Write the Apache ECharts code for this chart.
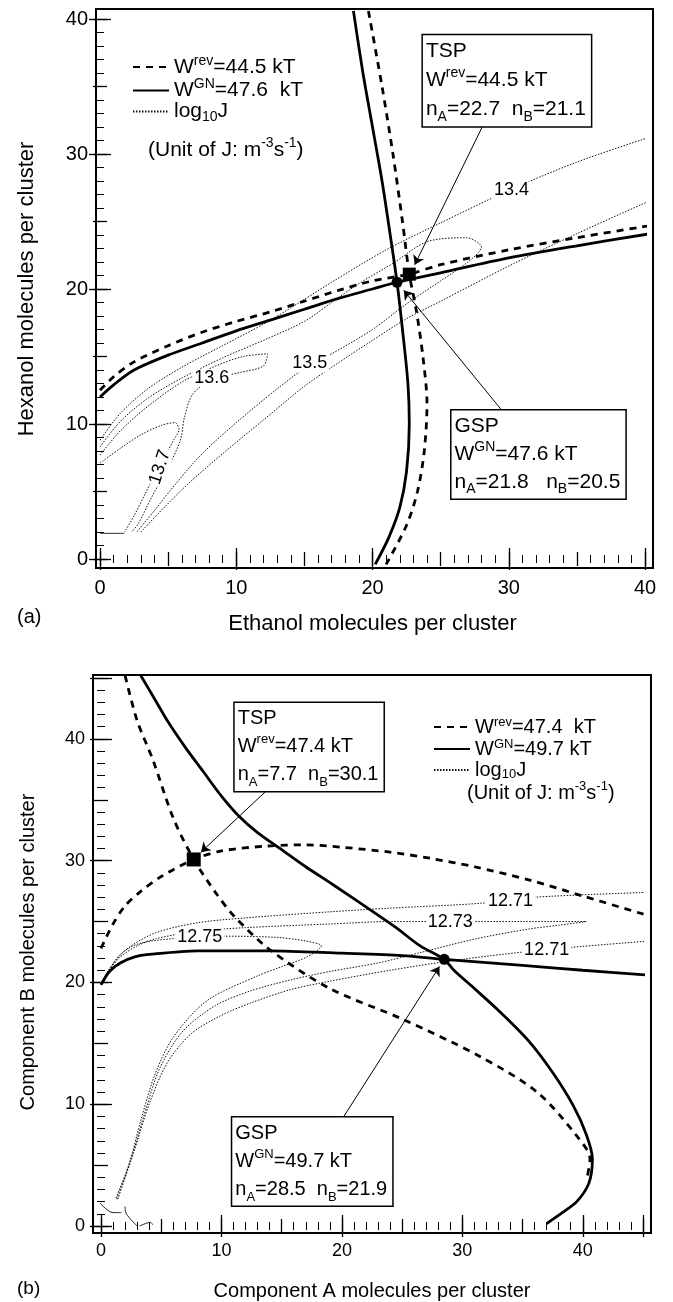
<!DOCTYPE html>
<html>
<head>
<meta charset="utf-8">
<script src="https://cdn.jsdelivr.net/npm/echarts@6/dist/echarts.min.js"></script>
<style>
  html, body { margin: 0; padding: 0; background: #fff; }
  #main { width: 673px; height: 1302px; }
</style>
</head>
<body>
<div id="main"></div>
<script>
// ---- panel (a): ethanol / hexanol ----
var aRevH = [[0,12.5],[1,13.5],[2.5,14.6],[5,15.8],[7.5,16.8],[10,17.6],[12.5,18.3],[15,19.1],[17.5,19.9],[20,20.6],[22.7,21.1],[25,21.8],[30,22.9],[35,23.8],[40.4,24.7]];
var aRevV = [[19.7,40.6],[20.7,35],[21.5,30],[22.2,25],[22.7,21.1],[23.2,18.5],[23.7,15],[24.0,11.5],[23.8,8],[23.3,5],[22.5,2.5],[21.0,-0.4]];
var aGnH = [[0,12.0],[1,12.9],[2.5,14.0],[5,15.1],[7.5,16.0],[10,16.9],[12.5,17.7],[15,18.5],[17.5,19.3],[20,20.0],[21.8,20.5],[25,21.2],[30,22.3],[35,23.2],[40.4,24.1]];
var aGnV = [[18.6,40.6],[19.3,36],[20,32],[20.7,28],[21.3,24],[21.8,20.5],[22.2,17],[22.6,13],[22.7,10],[22.5,6.5],[22,3.8],[21.2,1.6],[20.2,-0.4]];
var aJ134U = [[0,8.8],[1.5,10.8],[3.5,12.6],[6,14.2],[9,15.8],[12,17.4],[14,18.6],[17,20.5],[21,22.9],[25,24.9],[30,27.3],[35,29.4],[40.5,31.3]];
var aJ134L = [[3.0,2.0],[4.5,3.6],[6.5,5.6],[9,7.8],[12,10.3],[15,12.8],[17,14.2],[20,16.2],[22.5,17.8],[25.2,19.2],[30,21.7],[35,24.1],[40.5,26.6]];
var aJ135 = [[0,8.3],[1.5,10.2],[3.5,11.9],[6,13.4],[9,14.9],[12,16.2],[15,17.6],[17,19.0],[19,20.4],[21.5,21.9],[24,23.5],[26.9,23.8],[28,23.1],[27,22.0],[25,20.6],[22.5,18.9],[20,17.0],[17,15.2],[15.4,14.4],[13,12.6],[10,10.1],[7.5,7.8],[5.5,5.5],[4,3.6],[2.7,2.0]];
var aJ136 = [[0,7.7],[1.5,9.5],[3.5,11.3],[6,13.1],[8.5,14.3],[10.5,15.0],[12.3,15.2],[12.0,14.3],[10.2,13.8],[8.2,13.3],[6.8,12.2],[6.2,10.5],[5.9,8.8],[5.0,6.8],[3.8,4.6],[2.8,2.6],[2.3,2.0]];
var aJ137 = [[0,7.1],[1.5,8.2],[3,9.2],[4.5,9.9],[5.5,10.1],[5.8,9.6],[5.4,8.8],[4.8,7.7],[4.1,6.4],[3.3,4.8],[2.5,3.2],[1.8,2.0]];
var aEdge = [[0,1.9],[1.8,1.9]];
var aJLabels = [['13.4',30.2,27.3,0],['13.5',15.4,14.5,0],['13.6',8.2,13.4,0],['13.7',4.4,6.8,72]];
var aTSP = [22.7, 21.1];
var aGSP = [21.8, 20.5];

// ---- panel (b): component A / component B ----
var bRevD = [[2.0,45.2],[3.0,41.5],[4.3,38.3],[6.0,33.5],[7.7,30.1],[9.5,27.4],[11,25.5],[14,22.7],[19,19.5],[25,17],[31.5,13.9],[36.2,11],[39.5,7.4],[40.6,5.5],[40.3,3.7]];
var bRevA = [[0,22.8],[1,24.8],[2,26.3],[3.2,27.4],[5,28.7],[7.7,30.1],[10,30.8],[13.8,31.2],[17,31.3],[20,31.1],[24,30.7],[27.3,30.2],[31,29.5],[35.6,28.4],[40,27.1],[45.4,25.5]];
var bGnD = [[3.3,45.2],[4.5,43.2],[5.5,41.5],[7,39.3],[8.5,37.3],[10,35.3],[11.5,33.6],[13,32.3],[15,30.9],[17,29.5],[19.3,28.0],[22.3,26.0],[24.5,24.5],[26.5,23],[28.5,21.9],[29.3,21],[31,19.5],[33,17.7],[35.5,15.2],[37.5,12.6],[39.2,9.9],[40.3,7.5],[40.8,5.5],[40.5,3.5],[39.5,2.0],[38.3,1.1],[37,0.2]];
var bGnH = [[0,19.8],[0.7,20.9],[1.6,21.6],[2.8,22.1],[4,22.3],[8,22.6],[14,22.6],[20,22.4],[25,22.2],[28.5,21.9],[35,21.4],[40,21.0],[45.4,20.6]];
var bJ1271U = [[0.3,20.4],[1.2,21.8],[2.5,23.0],[4.6,24.1],[8,24.9],[12,25.3],[19,25.8],[24,26.1],[31.5,26.5],[36,27],[45.5,27.4]];
var bJ1273 = [[0.4,20.6],[1.5,22.0],[3,23.0],[4.6,23.6],[8,24.2],[12,24.5],[19,24.8],[24,25.0],[29,25.0],[35,25.0],[40.3,25.0],[38,24.7],[35.6,24.4],[31.2,23.6],[26.7,22.5],[23,21.6],[19,20.9],[15.7,20.2],[12.4,19.3],[9.5,18.1],[6.8,16],[4.9,13],[3.7,9.5],[2.5,5.5],[1.3,2.2]];
var bJ1275 = [[0.5,20.8],[1.7,22.4],[3.2,23.2],[6,23.6],[10.1,23.8],[14.6,23.7],[17,23.4],[18.3,23.0],[17.1,22.1],[15,21.3],[12.9,20.5],[8.8,18.5],[6,15.5],[4.5,12.5],[3.4,9],[2.3,5],[1.2,2.2]];
var bJ1271L = [[1.4,2.2],[2.7,6],[4.0,10],[5.5,13.4],[7.5,15.8],[10,17.3],[12.4,18.3],[15.7,19.4],[19,20.1],[24,21.0],[30,21.9],[37,22.7],[45.5,23.4]];
var bEdge1 = [[-0.3,2.1],[1.0,1.1],[1.7,1.1]];
var bEdge2 = [[2.0,1.6],[2.1,1.0],[3.0,0]];
var bEdge3 = [[3.2,0],[4.1,0.3],[4.3,0.1]];
var bJLabels = [['12.71',34,26.7,0],['12.73',29,25.0,0],['12.75',8.2,23.7,0],['12.71',37,22.7,0]];
var bTSP = [7.7, 30.1];
var bGSP = [28.5, 21.9];

var FONT = 'Liberation Sans, Arial, sans-serif';

function rich(fs, lh) {
  return {
    t: { fontSize: fs, fontFamily: FONT, color: '#000', lineHeight: lh },
    sup: { fontSize: Math.round(fs * 0.66), fontFamily: FONT, color: '#000', verticalAlign: 'top', lineHeight: Math.round(fs * 1.05) },
    sub: { fontSize: Math.round(fs * 0.66), fontFamily: FONT, color: '#000', verticalAlign: 'bottom', lineHeight: Math.round(fs * 0.75) }
  };
}

function xAxes(gi, max, offB, offT, name, fs, nameFs, nameGap) {
  var base = { gridIndex: gi, type: 'value', min: 0, max: max, splitLine: { show: false }, axisLine: { show: false } };
  var tk = function (len) { return { inside: true, length: len, lineStyle: { color: '#000', width: 1.3 } }; };
  var mt = { show: true, splitNumber: 5, length: 4, lineStyle: { color: '#000', width: 1 } };
  return [
    Object.assign({}, base, { position: 'bottom', offset: offB, interval: 5, axisTick: tk(7), minorTick: mt,
      axisLabel: { fontSize: fs, color: '#000', fontFamily: FONT, margin: 10, formatter: function (v) { return v % 10 === 0 ? String(v) : ''; } },
      name: name, nameLocation: 'middle', nameGap: nameGap, nameTextStyle: { fontSize: nameFs, fontFamily: FONT, color: '#000' } }),
    Object.assign({}, base, { position: 'bottom', offset: offB, interval: 10, axisTick: tk(11), axisLabel: { show: false } }),
    Object.assign({}, base, { position: 'top', offset: offT, interval: 5, axisTick: tk(7), minorTick: mt, axisLabel: { show: false } }),
    Object.assign({}, base, { position: 'top', offset: offT, interval: 10, axisTick: tk(11), axisLabel: { show: false } })
  ];
}

function yAxes(gi, max, offL, offR, name, fs, nameFs, nameGap) {
  var base = { gridIndex: gi, type: 'value', min: 0, max: max, splitLine: { show: false }, axisLine: { show: false } };
  var tk = function (len) { return { inside: true, length: len, lineStyle: { color: '#000', width: 1.3 } }; };
  var mt = { show: true, splitNumber: 5, length: 4, lineStyle: { color: '#000', width: 1 } };
  return [
    Object.assign({}, base, { position: 'left', offset: offL, interval: 5, axisTick: tk(7), minorTick: mt,
      axisLabel: { fontSize: fs, color: '#000', fontFamily: FONT, margin: 8, formatter: function (v) { return v % 10 === 0 ? String(v) : ''; } },
      name: name, nameLocation: 'middle', nameGap: nameGap, nameRotate: 90, nameTextStyle: { fontSize: nameFs, fontFamily: FONT, color: '#000' } }),
    Object.assign({}, base, { position: 'left', offset: offL, interval: 10, axisTick: tk(11), axisLabel: { show: false } }),
    Object.assign({}, base, { position: 'right', offset: offR, interval: 5, axisTick: tk(7), minorTick: mt, axisLabel: { show: false } }),
    Object.assign({}, base, { position: 'right', offset: offR, interval: 10, axisTick: tk(11), axisLabel: { show: false } })
  ];
}

var DASH = { color: '#000', width: 2.8, type: [7, 6] };
var SOLID = { color: '#000', width: 2.8 };
var DOT = { color: '#111', width: 1, type: [1.5, 1.5] };
var THIN = { color: '#222', width: 1 };

function line(name, data, gi, style, z) {
  return { type: 'line', name: name, data: data, xAxisIndex: gi * 4, yAxisIndex: gi * 4,
    symbol: 'none', showSymbol: false, clip: false, smooth: 0.3, lineStyle: style, itemStyle: { color: '#000' },
    z: z || 2, emphasis: { disabled: true }, silent: true };
}

function contourLabels(list, gi, fs) {
  return { type: 'scatter', xAxisIndex: gi * 4, yAxisIndex: gi * 4, symbolSize: 0, z: 5, silent: true, clip: false,
    itemStyle: { opacity: 1 },
    data: list.map(function (r) { return { name: r[0], value: [r[1], r[2]], label: { rotate: r[3] } }; }),
    label: { show: true, position: 'inside', formatter: '{b}', fontSize: fs, fontFamily: FONT, color: '#000',
      backgroundColor: '#fff', padding: [0, 2] } };
}

function marker(pt, gi, shape, size) {
  return { type: 'scatter', xAxisIndex: gi * 4, yAxisIndex: gi * 4, symbol: shape, symbolSize: size, z: 6, clip: false,
    itemStyle: { color: '#000', opacity: 1 }, data: [pt], silent: true };
}

function box(anchor, text, from, to, gi, fs, lh) {
  return { type: 'scatter', xAxisIndex: gi * 4, yAxisIndex: gi * 4, symbolSize: 0, z: 7, clip: false, silent: true,
    itemStyle: { opacity: 1 },
    data: [anchor],
    label: { show: true, position: [0, 0], align: 'left', verticalAlign: 'top', formatter: text, opacity: 1,
      backgroundColor: '#fff', borderColor: '#000', borderWidth: 1.5, padding: [2, 5, 2, 3], rich: rich(fs, lh) },
    markLine: { silent: true, symbol: ['none', 'arrow'], symbolSize: 9, animation: false,
      lineStyle: { color: '#000', width: 1, type: 'solid', opacity: 1 }, label: { show: false },
      data: [[{ coord: from }, { coord: to }]] } };
}

var chart = echarts.init(document.getElementById('main'));

var option = {
  animation: false,
  backgroundColor: '#fff',
  grid: [
    { left: 100, top: 19, width: 545, height: 540 },
    { left: 101, top: 678, width: 542, height: 549 }
  ],
  xAxis: xAxes(0, 40, 9, 10, 'Ethanol molecules per cluster', 20, 22, 45)
    .concat(xAxes(1, 45, 6, 3, 'Component A molecules per cluster', 18, 20, 49)),
  yAxis: yAxes(0, 40, 4, 8, 'Hexanol molecules per cluster', 20, 22, 58)
    .concat(yAxes(1, 45, 8, 8, 'Component B molecules per cluster', 18, 20, 55)),
  legend: [
    { orient: 'vertical', left: 127, top: 49, itemWidth: 36, itemHeight: 12, itemGap: 0,
      data: ['aRev', 'aGN', 'aJ'], selectedMode: false, itemStyle: { opacity: 0, borderWidth: 0 },
      formatter: function (n) {
        return { aRev: '{t|W}{sup|rev}{t|=44.5 kT}', aGN: '{t|W}{sup|GN}{t|=47.6  kT}', aJ: '{t|log}{sub|10}{t|J}' }[n];
      },
      textStyle: { rich: rich(21, 26) } },
    { orient: 'vertical', left: 428, top: 711, itemWidth: 36, itemHeight: 12, itemGap: 1,
      data: ['bRev', 'bGN', 'bJ'], selectedMode: false, itemStyle: { opacity: 0, borderWidth: 0 },
      formatter: function (n) {
        return { bRev: '{t|W}{sup|rev}{t|=47.4  kT}', bGN: '{t|W}{sup|GN}{t|=49.7 kT}', bJ: '{t|log}{sub|10}{t|J}' }[n];
      },
      textStyle: { rich: rich(20, 22) } }
  ],
  graphic: [
    { type: 'rect', shape: { x: 96, y: 9, width: 557, height: 559 }, style: { fill: 'none', stroke: '#000', lineWidth: 2 }, z: 100 },
    { type: 'rect', shape: { x: 93, y: 675, width: 558, height: 558 }, style: { fill: 'none', stroke: '#000', lineWidth: 2 }, z: 100 },
    { type: 'text', left: 17, top: 607, style: { text: '(a)', fontSize: 20, fontFamily: FONT, fill: '#000' } },
    { type: 'text', left: 17, top: 1279, style: { text: '(b)', fontSize: 19, fontFamily: FONT, fill: '#000' } },
    { type: 'text', left: 148, top: 136, style: { text: '{t|(Unit of J: m}{sup|-3}{t|s}{sup|-1}{t|)}', rich: rich(21, 28) } },
    { type: 'text', left: 467, top: 780, style: { text: '{t|(Unit of J: m}{sup|-3}{t|s}{sup|-1}{t|)}', rich: rich(20, 26) } }
  ],
  series: [
    line('aRev', aRevH, 0, DASH, 3), line('aRev', aRevV, 0, DASH, 3),
    line('aGN', aGnH, 0, SOLID, 3), line('aGN', aGnV, 0, SOLID, 3),
    line('aJ', aJ134U, 0, DOT), line('aJ', aJ134L, 0, DOT), line('aJ', aJ135, 0, DOT),
    line('aJ', aJ136, 0, DOT), line('aJ', aJ137, 0, DOT), line('aEdge', aEdge, 0, THIN),
    contourLabels(aJLabels, 0, 18),
    marker(aTSP, 0, 'rect', 13), marker(aGSP, 0, 'circle', 11),
    box([23.7, 38.8], '{t|TSP}\n{t|W}{sup|rev}{t|=44.5 kT}\n{t|n}{sub|A}{t|=22.7  n}{sub|B}{t|=21.1}', [28.1, 32.1], [23.1, 21.8], 0, 21, 29),
    box([25.8, 11.0], '{t|GSP}\n{t|W}{sup|GN}{t|=47.6 kT}\n{t|n}{sub|A}{t|=21.8   n}{sub|B}{t|=20.5}', [29.5, 11.0], [22.3, 19.9], 0, 21, 28),

    line('bRev', bRevD, 1, DASH, 3), line('bRev', bRevA, 1, DASH, 3),
    line('bGN', bGnD, 1, SOLID, 3), line('bGN', bGnH, 1, SOLID, 3),
    line('bJ', bJ1271U, 1, DOT), line('bJ', bJ1273, 1, DOT), line('bJ', bJ1275, 1, DOT), line('bJ', bJ1271L, 1, DOT),
    line('bEdge', bEdge1, 1, THIN), line('bEdge', bEdge2, 1, THIN), line('bEdge', bEdge3, 1, THIN),
    contourLabels(bJLabels, 1, 18),
    marker(bTSP, 1, 'rect', 14), marker(bGSP, 1, 'circle', 11),
    box([11.1, 42.95], '{t|TSP}\n{t|W}{sup|rev}{t|=47.4 kT}\n{t|n}{sub|A}{t|=7.7  n}{sub|B}{t|=30.1}', [13.8, 35.8], [8.3, 30.7], 1, 20, 28),
    box([10.9, 8.9], '{t|GSP}\n{t|W}{sup|GN}{t|=49.7 kT}\n{t|n}{sub|A}{t|=28.5  n}{sub|B}{t|=21.9}', [20.1, 8.9], [28.1, 21.3], 1, 20, 28)
  ]
};

chart.setOption(option);
</script>
</body>
</html>
